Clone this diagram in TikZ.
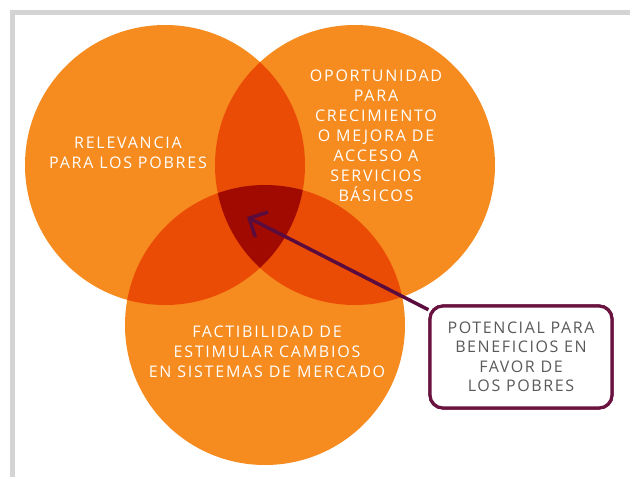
\documentclass[tikz,border=0pt]{standalone}
\usepackage{fontspec}
\setmainfont{Open Sans}
\usetikzlibrary{arrows.meta}
\definecolor{orangec}{HTML}{F68B1F}
\definecolor{pairc}{HTML}{EA4B05}
\definecolor{triplec}{HTML}{A00A00}
\definecolor{pointerc}{HTML}{5B0C3F}
\definecolor{boxc}{HTML}{6A1340}
\definecolor{textgray}{HTML}{5A5A5A}
\definecolor{framec}{HTML}{D4D4D4}
\tikzset{
  lbl/.style={align=center, text=white, inner sep=0pt,
    font={\addfontfeatures{LetterSpace=11}\fontsize{16}{20}\selectfont}},
  boxlbl/.style={align=center, text=textgray, draw=boxc, line width=3.2pt,
    rounded corners=13pt, fill=white, minimum width=182pt, minimum height=102pt,
    inner sep=0pt,
    font={\addfontfeatures{LetterSpace=10}\fontsize{16}{19.5}\selectfont}},
  pointer/.style={draw=pointerc, line width=3.5pt,
    -{Straight Barb[length=14pt,width=28pt]}},
  framel/.style={draw=framec, line width=5pt}
}
\begin{document}
\begin{tikzpicture}[x=1pt,y=-1pt]
\useasboundingbox (0,0) rectangle (630,477);
\draw[framel] (12.5,477) -- (12.5,12.5) -- (630,12.5);
\coordinate (L) at (165,165);
\coordinate (R) at (355,165);
\coordinate (B) at (265,325);
\fill[orangec] (L) circle (140);
\fill[orangec] (R) circle (140);
\fill[orangec] (B) circle (140);
\begin{scope}\clip (L) circle (140); \fill[pairc] (R) circle (140); \end{scope}
\begin{scope}\clip (L) circle (140); \fill[pairc] (B) circle (140); \end{scope}
\begin{scope}\clip (R) circle (140); \fill[pairc] (B) circle (140); \end{scope}
\begin{scope}\clip (L) circle (140); \clip (R) circle (140); \fill[triplec] (B) circle (140); \end{scope}
\node[lbl] (t1) at (128,153) {RELEVANCIA\\PARA LOS POBRES};
\node[lbl] (t2) at (376,136) {OPORTUNIDAD\\PARA\\CRECIMIENTO\\O MEJORA DE\\ACCESO A\\SERVICIOS\\BÁSICOS};
\node[lbl] (t3) at (267,352) {FACTIBILIDAD DE\\ESTIMULAR CAMBIOS\\EN SISTEMAS DE MERCADO};
\coordinate (tip) at (247,217);
\node[boxlbl] (box) at (521,357) {POTENCIAL PARA\\BENEFICIOS EN\\FAVOR DE\\LOS POBRES};
\draw[pointer] (box) -- (tip);
\node[boxlbl] at (box) {POTENCIAL PARA\\BENEFICIOS EN\\FAVOR DE\\LOS POBRES};
\end{tikzpicture}
\end{document}
